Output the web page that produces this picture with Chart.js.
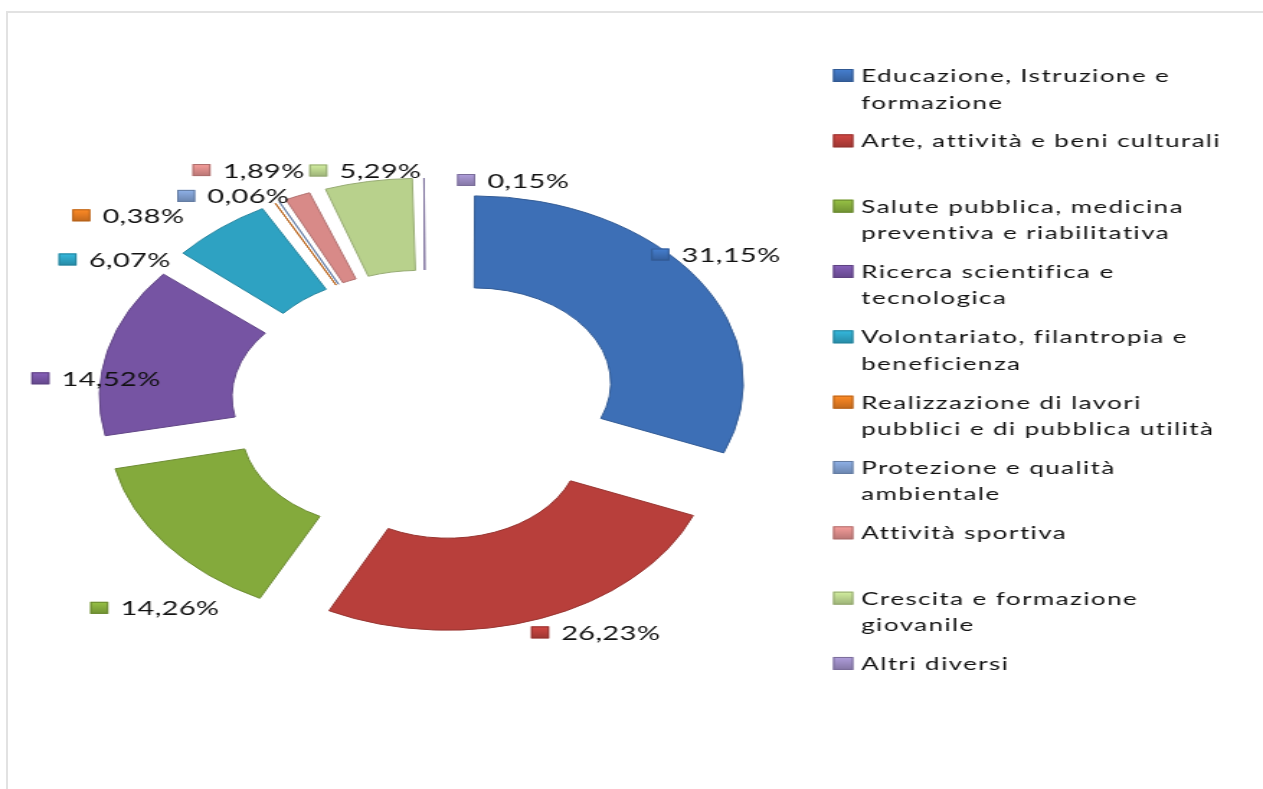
<!DOCTYPE html>
<html>
<head>
<meta charset="utf-8">
<script src="https://cdn.jsdelivr.net/npm/chart.js@4/dist/chart.umd.min.js"></script>
<style>
  html, body { margin: 0; padding: 0; background: #ffffff; overflow: hidden; }
  #wrap { position: absolute; left: 0; top: 0; width: 1263px; height: 789px; }
  #frame { position: absolute; left: 6px; top: 11px; width: 1260px; height: 790px;
           border-top: 2px solid #e2e2e2; border-left: 2px solid #e2e2e2; box-sizing: border-box; }
  #c { position: absolute; left: 0; top: 0; }
</style>
</head>
<body>
<div id="wrap">
  <div id="frame"></div>
  <canvas id="c" width="877" height="789" style="width:1263px;height:789px;"></canvas>
</div>
<script>
// ---- data ----
const categories = [
  ["Educazione, Istruzione e", "formazione"],
  ["Arte, attività e beni culturali"],
  ["Salute pubblica, medicina", "preventiva e riabilitativa"],
  ["Ricerca scientifica e", "tecnologica"],
  ["Volontariato, filantropia e", "beneficienza"],
  ["Realizzazione di lavori", "pubblici e di pubblica utilità"],
  ["Protezione e qualità", "ambientale"],
  ["Attività sportiva"],
  ["Crescita e formazione", "giovanile"],
  ["Altri diversi"]
];
const values = [31.15, 26.23, 14.26, 14.52, 6.07, 0.38, 0.06, 1.89, 5.29, 0.15];
const colors = ['#3D6FB6', '#B83F3B', '#84AA3C', '#7654A3', '#2EA2C2', '#E27A21', '#7D9BCB', '#D88A88', '#B8D18C', '#9A8AC0'];
// label placement nudges relative to the outer end of each slice (layout only)
const labelNudge = [[-26,-24],[-1,14],[-47,63],[-47,28],[-106,31],[-135,12],[-65,-6],[-67,-26],[-35,-11],[29,2]];

// ---- layout constants (canvas buffer units; canvas is stretched horizontally) ----
const EXPLODE = 43.5;
const FONT = 'Lato, "Open Sans", "Liberation Sans", sans-serif';

function shade(hex, f) {
  const n = parseInt(hex.slice(1), 16);
  let r = (n >> 16) & 255, g = (n >> 8) & 255, b = n & 255;
  r = Math.round(r * f); g = Math.round(g * f); b = Math.round(b * f);
  return 'rgb(' + Math.min(255, r) + ',' + Math.min(255, g) + ',' + Math.min(255, b) + ')';
}
function fmt(v) { return v.toFixed(2).replace('.', ',') + '%'; }

function drawKey(ctx, x, y, w, h, color) {
  ctx.save();
  const g = ctx.createLinearGradient(0, y, 0, y + h);
  g.addColorStop(0, shade(color, 1.15));
  g.addColorStop(0.5, color);
  g.addColorStop(1, shade(color, 0.85));
  ctx.fillStyle = g;
  ctx.fillRect(x, y, w, h);
  ctx.strokeStyle = shade(color, 0.8);
  ctx.lineWidth = 1;
  ctx.strokeRect(x + 0.5, y + 0.5, w - 1, h - 1);
  ctx.restore();
}

const labelsPlugin = {
  id: 'pctLabels',
  afterDatasetsDraw(chart) {
    const ctx = chart.ctx;
    const meta = chart.getDatasetMeta(0);
    ctx.save();
    ctx.font = '20px ' + FONT;
    ctx.fillStyle = '#111111';
    ctx.textBaseline = 'alphabetic';
    ctx.textAlign = 'left';
    if ('letterSpacing' in ctx) ctx.letterSpacing = '0.3px';
    meta.data.forEach((el, i) => {
      const p = el.getProps(['x', 'y', 'startAngle', 'endAngle', 'outerRadius'], true);
      const mid = (p.startAngle + p.endAngle) / 2;
      const rr = p.outerRadius + EXPLODE;
      const mx = p.x + Math.cos(mid) * rr + labelNudge[i][0];
      const my = p.y + Math.sin(mid) * rr + labelNudge[i][1];
      drawKey(ctx, mx - 6, my - 6, 12.5, 12, colors[i]);
      ctx.fillText(fmt(values[i]), mx + 15, my + 7.5);
    });
    ctx.restore();
  }
};

const legendPlugin = {
  id: 'sideLegend',
  afterDraw(chart) {
    const ctx = chart.ctx;
    ctx.save();
    ctx.font = '18px ' + FONT;
    ctx.fillStyle = '#111111';
    ctx.textBaseline = 'alphabetic';
    ctx.textAlign = 'left';
    if ('letterSpacing' in ctx) ctx.letterSpacing = '1px';
    const x0 = 578.5, tx = 598, y0 = 82, step = 65.33, lh = 26.5;
    categories.forEach((lines, i) => {
      const by = y0 + i * step;
      drawKey(ctx, x0, by - 13, 14, 13, colors[i]);
      lines.forEach((t, j) => ctx.fillText(t, tx, by + j * lh));
    });
    ctx.restore();
  }
};

const total = values.reduce((a, b) => a + b, 0);

new Chart(document.getElementById('c'), {
  type: 'doughnut',
  data: {
    labels: categories.map(l => l.join(' ')),
    datasets: [{
      data: values,
      backgroundColor: colors,
      borderColor: colors.map(c => shade(c, 0.82)),
      borderWidth: 1,
      offset: (ctx) => {
        const v = values[ctx.dataIndex];
        const c = v / total * Math.PI * 2;
        const fix = 1 - Math.sin(Math.min(Math.PI, c));
        return 4 * EXPLODE / (1 + fix);
      },
      hoverOffset: 0
    }]
  },
  options: {
    responsive: false,
    devicePixelRatio: 1,
    animation: false,
    cutout: '50%',
    radius: 184,
    rotation: 0,
    layout: { padding: { left: 0, right: 286, top: 22, bottom: 0 } },
    plugins: {
      legend: { display: false },
      tooltip: { enabled: false }
    },
    events: []
  },
  plugins: [labelsPlugin, legendPlugin]
});
</script>
</body>
</html>
